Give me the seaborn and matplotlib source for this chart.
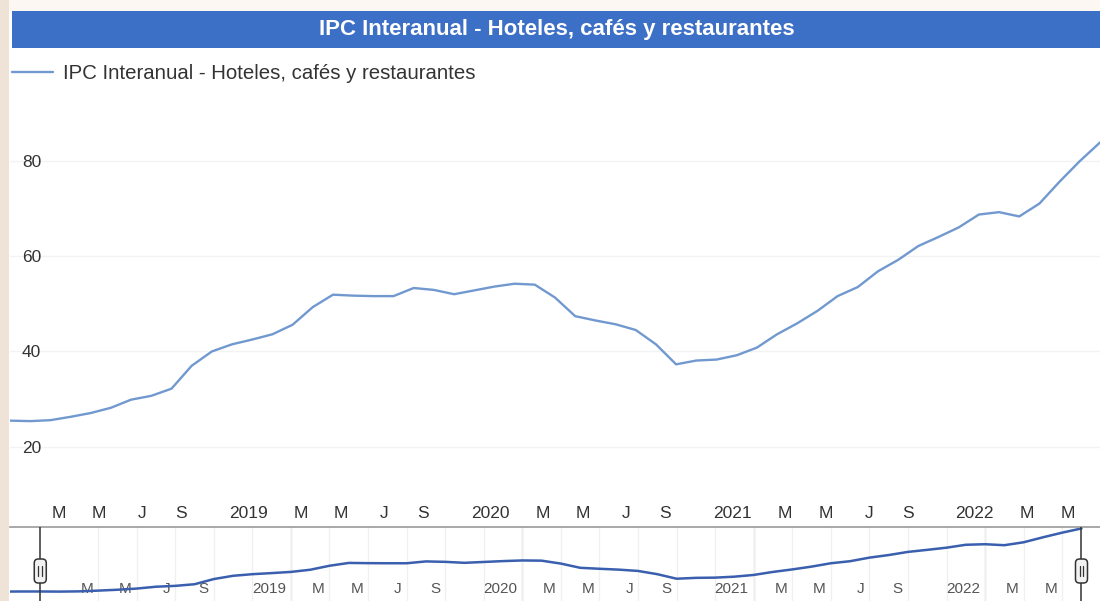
import numpy as np
import pandas as pd
import matplotlib
matplotlib.use("Agg")
import matplotlib.pyplot as plt
import seaborn as sns
from matplotlib.patches import Rectangle, FancyBboxPatch
from matplotlib.transforms import ScaledTranslation, IdentityTransform

# ---------------- data ----------------
series_name = "IPC Interanual - Hoteles, cafés y restaurantes"
first_month = "2017-10-01"
last_month = "2022-06-01"
ipc_values = [
    25.4, 25.5,                                   # Oct, Nov 2017
    25.5, 25.4, 25.6, 26.3, 27.1, 28.2, 29.9,     # Dec 2017 .. Jun 2018
    30.7, 32.2, 37.0, 40.0, 41.5, 42.5,           # Jul .. Dec 2018
    43.6, 45.6, 49.3, 51.9, 51.7, 51.6,           # Jan .. Jun 2019
    51.6, 53.3, 52.9, 52.0, 52.8, 53.6,           # Jul .. Dec 2019
    54.2, 54.0, 51.3, 47.4, 46.5, 45.7,           # Jan .. Jun 2020
    44.5, 41.5, 37.3, 38.1, 38.3, 39.2,           # Jul .. Dec 2020
    40.8, 43.6, 45.9, 48.5, 51.6, 53.5,           # Jan .. Jun 2021
    56.8, 59.2, 62.1, 64.0, 66.0, 68.7,           # Jul .. Dec 2021
    69.2, 68.3, 71.0, 75.6, 79.9, 83.8,           # Jan .. Jun 2022
]
y_ticks = [20, 40, 60, 80]
tick_first = "2018-03-01"
tick_last = "2022-05-01"
x_tick_labels = ["M", "M", "J", "S", "", "2019",
                 "M", "M", "J", "S", "", "2020",
                 "M", "M", "J", "S", "", "2021",
                 "M", "M", "J", "S", "", "2022",
                 "M", "M"]
visible_first = "2017-12-01"
visible_last = "2022-06-01"


def month_index(d):
    d = pd.Timestamp(d)
    return (d.year - 2018) * 12 + d.month - 1


months = pd.date_range(first_month, last_month, freq="MS")
t = np.array([month_index(d) for d in months], dtype=float)
df = pd.DataFrame({"t": t, "ipc": ipc_values})
tick_dates = pd.date_range(tick_first, tick_last, freq="2MS")
tick_t = [month_index(d) for d in tick_dates]
year_t = [month_index(d) for d in tick_dates if d.month == 1]

# ---------------- style ----------------
sns.set_style("white")
plt.rcParams["font.family"] = ["Liberation Sans", "DejaVu Sans"]

W, H = 1100, 601
fig = plt.figure(figsize=(W / 100, H / 100), dpi=100)
fig.patch.set_facecolor("white")

# page decorations
fig.add_artist(Rectangle((0, 1 - 11 / H), 1, 11 / H, transform=fig.transFigure,
                         facecolor="#fcf7f2", edgecolor="none", zorder=0))
fig.add_artist(Rectangle((0, 0), 9 / W, 1, transform=fig.transFigure,
                         facecolor="#efe3d8", edgecolor="none", zorder=0))
# title bar
fig.add_artist(Rectangle((12 / W, 1 - 48 / H), (W - 12) / W, 37 / H,
                         transform=fig.transFigure, facecolor="#3c6fc6",
                         edgecolor="none", zorder=1))
fig.text(557 / W, 1 - 29.5 / H, series_name, color="white", fontsize=16,
         fontweight="bold", ha="center", va="center", zorder=2)

line_color = "#7199cf"
nav_color = "#3a5fae"

# ---------------- main chart ----------------
ax = fig.add_axes([10 / W, 1 - 503 / H, 1090 / W, (503 - 90) / H])
ax.set_facecolor("white")
sns.lineplot(data=df, x="t", y="ipc", ax=ax, color=line_color, linewidth=1.7,
             label=series_name, legend=False)
ax.set_xlim(month_index(visible_first), month_index(visible_last))
ax.set_ylim(8.24, 94.8)
ax.set_xlabel("")
ax.set_ylabel("")
for s in ax.spines.values():
    s.set_visible(False)
ax.set_yticks(y_ticks)
ax.yaxis.grid(True, color="#f3f3f3", linewidth=1)
ax.xaxis.grid(False)
ax.tick_params(axis="y", length=0, pad=-8.64, labelsize=12.5, labelcolor="#333333")
for lbl in ax.get_yticklabels():
    lbl.set_horizontalalignment("left")
ax.set_xticks(tick_t)
ax.set_xticklabels(x_tick_labels)
ax.tick_params(axis="x", length=0, pad=1.9, labelsize=12.5, labelcolor="#333333")
shift_main = ScaledTranslation(-5 / 100, 0, fig.dpi_scale_trans)
for lbl in ax.get_xticklabels():
    lbl.set_horizontalalignment("right")
    lbl.set_transform(lbl.get_transform() + shift_main)

handles = ax.get_lines()[:1]
ax.legend(handles=handles, labels=[series_name], loc="center left",
          bbox_to_anchor=(12 / W, 1 - 73.6 / H), bbox_transform=fig.transFigure,
          frameon=False, borderpad=0, borderaxespad=0, handlelength=2.0,
          handletextpad=0.5, fontsize=14.7, labelcolor="#333333")

# ---------------- navigator ----------------
axn = fig.add_axes([10 / W, 0, 1090 / W, 74.4 / H])
axn.set_facecolor("white")
sns.lineplot(data=df, x="t", y="ipc", ax=axn, color=nav_color, linewidth=1.8,
             legend=False)
axn.set_xlim(-2.57, 53.96)
axn.set_ylim(16.7, 85.5)
axn.set_xlabel("")
axn.set_ylabel("")
for k, s in axn.spines.items():
    s.set_visible(k == "top")
axn.spines["top"].set_color("#9a9a9a")
axn.spines["top"].set_linewidth(1.2)
axn.set_yticks([])
axn.set_xticks(tick_t)
axn.set_xticklabels(x_tick_labels)
axn.xaxis.grid(True, color="#f0f0f0", linewidth=1)
for yt in year_t:
    axn.axvline(yt, color="#d2d2d2", linewidth=1, zorder=0.5)
axn.tick_params(axis="x", length=0, pad=-14, labelsize=11, labelcolor="#555555")
shift_nav = ScaledTranslation(-5 / 100, 0, fig.dpi_scale_trans)
for lbl in axn.get_xticklabels():
    lbl.set_horizontalalignment("right")
    lbl.set_transform(lbl.get_transform() + shift_nav)

# navigator handles at visible range
for ht in (month_index(visible_first), month_index(visible_last)):
    axn.axvline(ht, color="#333333", linewidth=1.1, zorder=5)
    xd = axn.transData.transform((ht, 50))[0]
    yd = 601 - 571
    box = FancyBboxPatch((xd - 6, yd - 12), 12, 24,
                         boxstyle="round,pad=0,rounding_size=4",
                         transform=IdentityTransform(), facecolor="#f2f2f2",
                         edgecolor="#333333", linewidth=1.1, zorder=6)
    fig.add_artist(box)
    for dx in (-1.8, 1.8):
        fig.add_artist(plt.Line2D([xd + dx, xd + dx], [yd - 5, yd + 5],
                                  transform=IdentityTransform(),
                                  color="#333333", linewidth=0.9, zorder=7))

fig.savefig("out.png", dpi=100)
